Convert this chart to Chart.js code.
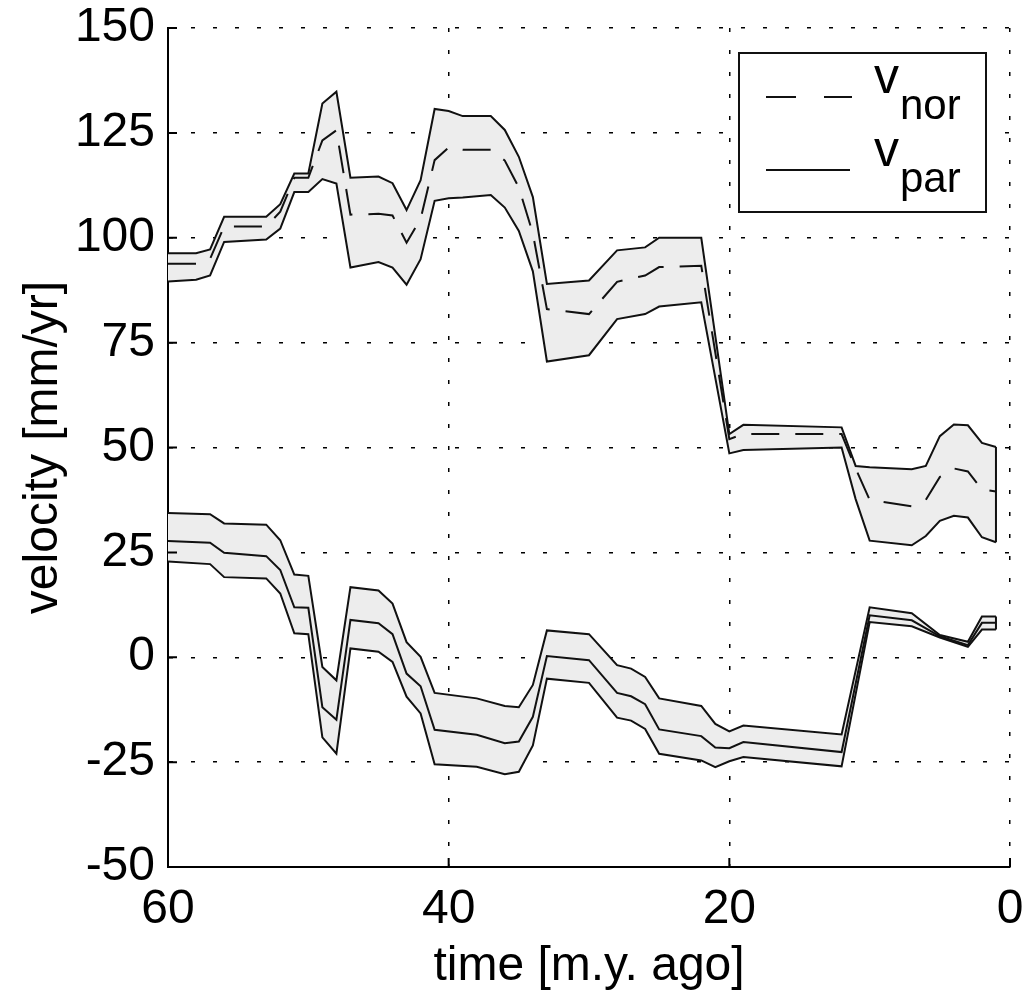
<!DOCTYPE html>
<html>
<head>
<meta charset="utf-8">
<script src="https://cdn.jsdelivr.net/npm/chart.js@4/dist/chart.umd.min.js"></script>
<style>
  body { margin: 0; background: #fff; }
  canvas { display: block; }
</style>
</head>
<body>
<canvas id="velocity" width="1025" height="998"></canvas>
<script>
// normal component: time (m.y. ago), upper bound, mean, lower bound (mm/yr)
var norTime  = [60, 58, 57, 56, 53, 52, 51, 50, 49, 48, 47, 45, 44, 43, 42, 41, 40, 39, 37, 36, 35, 34, 33, 30, 28, 26, 25, 22, 20, 19, 12, 11, 10, 7, 6, 5, 4, 3, 2, 1]
var norUpper = [96.3, 96.3, 97.2, 105, 105, 108, 115.3, 115.3, 132, 134.8, 114.3, 114.6, 113, 106.6, 113.7, 130.7, 130.2, 129, 129, 125.7, 119.3, 109.7, 89, 89.8, 97, 97.7, 100, 100, 53.2, 55.4, 54.8, 45.6, 45.3, 44.8, 45.6, 52.7, 55.5, 55.3, 51.1, 50.1]
var norMid   = [93.8, 93.8, 95, 102.7, 102.7, 106.2, 114.3, 114.3, 123.2, 125.6, 105.5, 105.7, 105.3, 98.8, 104.5, 118.5, 121.5, 121, 121, 118.4, 112, 101, 83, 81.8, 89.5, 91, 93, 93.3, 52, 53.2, 53.2, 45, 37.5, 36, 37.5, 43, 45, 44.3, 40, 39.5]
var norLower = [89.6, 90, 91, 99, 99.6, 102.2, 110.9, 110.9, 114, 112.9, 92.9, 94.2, 92.9, 88.8, 94.9, 108.8, 109.4, 109.6, 110.2, 107.2, 101.6, 92, 70.5, 72, 80.6, 81.8, 83.6, 84.6, 48.6, 49.4, 50, 37.7, 27.8, 26.7, 28.9, 32.5, 33.7, 33.3, 28.6, 27.4]

// parallel component
var parTime  = [60, 57, 56, 53, 52, 51, 50, 49, 48, 47, 45, 44, 43, 42, 41, 38, 36, 35, 34, 33, 30, 28, 27, 26, 25, 22, 21, 20, 19, 12, 10, 7, 5, 3, 2, 1]
var parUpper = [34.4, 34.1, 31.9, 31.6, 27.9, 19.7, 19.4, -2.3, -5.5, 16.7, 15.9, 12.8, 3.6, 0.1, -8.5, -9.8, -11.6, -11.9, -6.6, 6.4, 5.5, -1.9, -2.7, -4.7, -9.8, -11.6, -15.9, -17.7, -16.3, -18.4, 11.9, 10.5, 5.3, 3.7, 9.7, 9.7]
var parMid   = [27.7, 27.3, 24.9, 24.1, 20.8, 11.9, 11.8, -11.9, -14.9, 8.9, 8.1, 5.5, -3.9, -6.9, -17.3, -18.5, -20.5, -20.1, -14.2, 0.3, -0.7, -8.5, -9.3, -11.2, -17.2, -18.8, -21.5, -21.7, -20.2, -22.6, 10.0, 8.8, 5.0, 2.9, 8.2, 8.2]
var parLower = [22.8, 22.2, 19.1, 18.8, 15.2, 5.7, 5.5, -19.1, -23.0, 2.1, 1.3, -1.1, -9.4, -13.4, -25.5, -26.1, -27.9, -27.3, -21.0, -5.1, -6.1, -14.4, -15.1, -17.1, -23.0, -24.6, -26.2, -24.8, -23.8, -26.0, 8.4, 7.4, 4.7, 2.5, 6.6, 6.6]

var legendLabels = ['nor', 'par']

var FONT = "'Liberation Sans', Arial, Helvetica, sans-serif"
var INK = '#111'
var BAND = '#ededed'

function pairs(xs, ys) {
    var out = []
    for (var i = 0; i < xs.length; i++) out.push({x: xs[i], y: ys[i]})
    return out
}

// closing edge of a band at its most recent time step
function edge(xs, up, lo) {
    var n = xs.length - 1
    return [{x: xs[n], y: up[n]}, {x: xs[n], y: lo[n]}]
}

function line(data, extra) {
    var ds = {
        data: data,
        borderColor: INK,
        borderWidth: 2,
        pointRadius: 0,
        tension: 0,
        fill: false
    }
    for (var k in extra) ds[k] = extra[k]
    return ds
}

var datasets = [
    line(pairs(norTime, norUpper), {fill: {target: 2}, backgroundColor: BAND}),
    line(pairs(norTime, norMid), {borderDash: [28, 16]}),
    line(pairs(norTime, norLower)),
    line(edge(norTime, norUpper, norLower)),
    line(pairs(parTime, parUpper), {fill: {target: 6}, backgroundColor: BAND}),
    line(pairs(parTime, parMid)),
    line(pairs(parTime, parLower)),
    line(edge(parTime, parUpper, parLower))
]

// small inward tick marks plus the boxed legend with subscripts
var extras = {
    id: 'extras',
    afterDraw: function(chart) {
        var ctx = chart.ctx
        var xs = chart.scales.x, ys = chart.scales.y
        var area = chart.chartArea
        ctx.save()
        ctx.strokeStyle = '#000'
        ctx.lineWidth = 2
        ctx.beginPath()
        ys.ticks.forEach(function(t) {
            var p = ys.getPixelForValue(t.value)
            ctx.moveTo(area.left, p); ctx.lineTo(area.left + 9, p)
        })
        xs.ticks.forEach(function(t) {
            var p = xs.getPixelForValue(t.value)
            ctx.moveTo(p, area.bottom); ctx.lineTo(p, area.bottom - 9)
        })
        ctx.stroke()

        // legend box
        var bx = 739, by = 53, bw = 247, bh = 159
        ctx.fillStyle = '#fff'
        ctx.fillRect(bx, by, bw, bh)
        ctx.strokeStyle = INK
        ctx.lineWidth = 2
        ctx.strokeRect(bx, by, bw, bh)

        var rows = [97, 170]
        ctx.lineWidth = 2
        ctx.setLineDash([30, 28])
        ctx.beginPath(); ctx.moveTo(766, rows[0]); ctx.lineTo(852, rows[0]); ctx.stroke()
        ctx.setLineDash([])
        ctx.beginPath(); ctx.moveTo(766, rows[1]); ctx.lineTo(850, rows[1]); ctx.stroke()

        ctx.fillStyle = '#000'
        ctx.textBaseline = 'alphabetic'
        ctx.textAlign = 'left'
        for (var i = 0; i < legendLabels.length; i++) {
            ctx.font = '50px ' + FONT
            ctx.fillText('v', 874, rows[i] - 4)
            ctx.font = '42px ' + FONT
            ctx.fillText(legendLabels[i], 900, rows[i] + 22)
        }
        ctx.restore()
    }
}

new Chart(document.getElementById('velocity'), {
    type: 'line',
    data: {datasets: datasets},
    plugins: [extras],
    options: {
        responsive: false,
        animation: false,
        devicePixelRatio: 1,
        layout: {padding: {left: 0, right: 15, top: 28, bottom: 0}},
        plugins: {
            legend: {display: false},
            tooltip: {enabled: false},
            filler: {drawTime: 'beforeDatasetsDraw'}
        },
        scales: {
            x: {
                type: 'linear',
                reverse: true,
                min: 0,
                max: 60,
                ticks: {
                    stepSize: 20,
                    color: '#000',
                    padding: 19,
                    font: {family: FONT, size: 48, lineHeight: 1},
                    maxRotation: 0
                },
                grid: {color: '#000', lineWidth: 1.5, drawTicks: false},
                border: {display: true, color: '#000', width: 2, dash: [4, 18]},
                title: {
                    display: true,
                    text: 'time [m.y. ago]',
                    color: '#000',
                    font: {family: FONT, size: 48, lineHeight: 1},
                    padding: {bottom: 7}
                },
                afterFit: function(scale) {
                    scale.height = 131
                    scale.paddingLeft = 0
                    scale.paddingRight = 0
                }
            },
            y: {
                min: -50,
                max: 150,
                ticks: {
                    stepSize: 25,
                    color: '#000',
                    padding: 13,
                    font: {family: FONT, size: 48, lineHeight: 1}
                },
                grid: {color: '#000', lineWidth: 1.5, drawTicks: false},
                border: {display: true, color: '#000', width: 2, dash: [4, 18]},
                title: {
                    display: true,
                    text: 'velocity [mm/yr]',
                    color: '#000',
                    font: {family: FONT, size: 48, lineHeight: 1},
                    padding: {top: 20}
                },
                afterFit: function(scale) {
                    scale.width = 168
                    scale.paddingTop = 0
                    scale.paddingBottom = 0
                }
            }
        }
    }
})
</script>
</body>
</html>
